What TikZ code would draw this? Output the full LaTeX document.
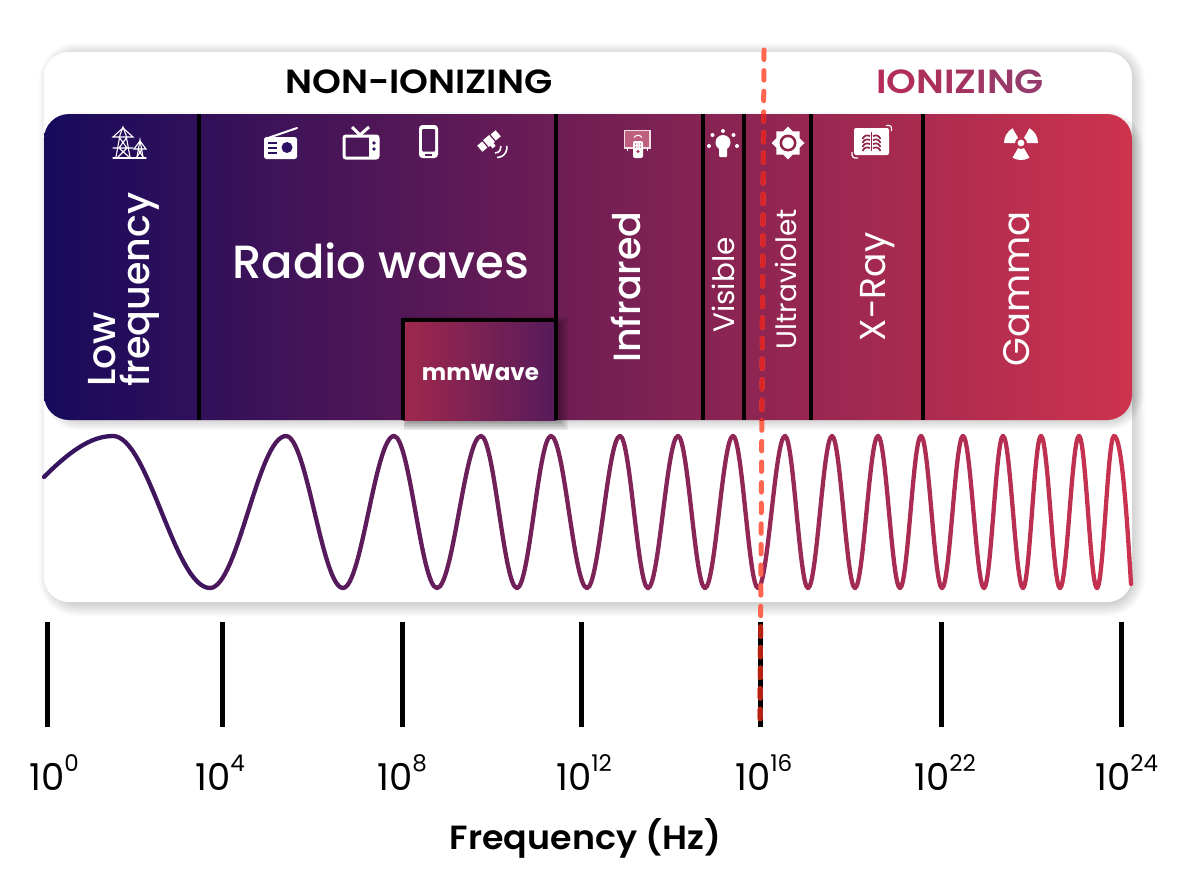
\documentclass[tikz,border=0pt]{standalone}
\usepackage{fontspec}
\setmainfont{Poppins}
\newfontfamily\medf{Poppins Medium}
\newfontfamily\semif{Poppins SemiBold}
\newfontfamily\boldf{Poppins Bold}
\usetikzlibrary{calc}
\definecolor{bandL}{HTML}{170A5C}
\definecolor{bandM}{HTML}{6A1F58}
\definecolor{bandR}{HTML}{CE334D}
\definecolor{waveL}{HTML}{36145F}
\definecolor{waveR}{HTML}{C93350}
\definecolor{coral}{HTML}{FF6650}
\definecolor{dashband}{HTML}{DA2528}
\definecolor{dashtick}{HTML}{B72010}
\definecolor{bgA}{HTML}{2C1061}
\definecolor{bgB}{HTML}{561B5A}
\definecolor{bgC}{HTML}{A82A51}
\newcommand{\fsz}[1]{\fontsize{#1}{#1}\selectfont}
\newcommand{\tenp}[1]{10\raisebox{19pt}{\fsz{23}#1}}
\tikzset{
 x=1pt,y=1pt,
 bandtext/.style={text=white,inner sep=0pt,align=left},
 sep/.style={draw=black,line width=3.4pt},
 tick/.style={draw=black,line width=5pt},
 ticklabel/.style={anchor=base west,inner sep=0pt,font=\fsz{37}},
 ico/.style={fill=white,draw=none},
 icoline/.style={draw=white,line width=1.1pt,line cap=round},
 dashes/.style={line width=5pt,line cap=round,dash pattern=on 9.5pt off 11.1pt},
 wave/.style={line width=4.3pt,line cap=round},
}
\begin{document}
\begin{tikzpicture}
\useasboundingbox (0,-886) rectangle (1204,0);
\fill[white] (0,-886) rectangle (1204,0);
% panel shadow
\foreach \w in {2,5,...,26}
  \draw[black,opacity=.02,line width=\w pt,rounded corners=25pt] (52,-56) rectangle (1132,-603);
\fill[white,rounded corners=25pt] (44,-52) rectangle (1132,-602);
% band shadow
\foreach \w in {2,5,...,20}
  \draw[black,opacity=.025,line width=\w pt,rounded corners=25pt] (54,-122) rectangle (1133,-420);
\shade[left color=bandL,middle color=bandM,right color=bandR,rounded corners=25pt] (44,-114) rectangle (1132,-420);
\node[anchor=base west,inner sep=0pt,text=black] (nonion) at (285,-93.5) {\scalebox{1.097}[1]{\semif\fsz{33.5}NON-IONIZING}};
\node[anchor=base west,inner sep=0pt] (ion) at (876,-93.5) {\scalebox{1.13}[1]{\semif\fsz{33.5}\textcolor[HTML]{B62D58}{I}\textcolor[HTML]{B22E5A}{O}\textcolor[HTML]{AC305C}{N}\textcolor[HTML]{A7325F}{I}\textcolor[HTML]{A33461}{Z}\textcolor[HTML]{9F3664}{I}\textcolor[HTML]{9A3867}{N}\textcolor[HTML]{943B6B}{G}}};
% mmWave
\begin{scope}
 \clip (404,-300) rectangle (600,-450);
 \foreach \w in {2,5,...,20}
  \draw[black,opacity=.05,line width=\w pt] (410,-326) rectangle (558,-420);
\end{scope}
\shade[left color=bgC!95!black,right color=bgB] (403,-320) rectangle (556,-420);
\draw[sep] (403,-420) -- (403,-320) -- (556,-320);
% separators
\foreach \x in {199,556,703,744,811,923}
  \draw[sep] (\x,-114) -- (\x,-420);
% labels
\node[bandtext,rotate=90,anchor=base west] (low) at (115,-387) {\medf\fsz{39}Low};
\node[bandtext,rotate=90,anchor=base west] (freq) at (149,-387) {\medf\fsz{38}frequency};
\node[bandtext,anchor=base west] (radio) at (232,-278) {\medf\fsz{46.5}Radio waves};
\node[bandtext,rotate=90,anchor=base] (infra) at (640,-287) {\medf\fsz{38}Infrared};
\node[bandtext,rotate=90,anchor=base] (vis) at (734,-285) {\fsz{29.5}Visible};
\node[bandtext,rotate=90,anchor=base] (uv) at (796,-279) {\fsz{28}Ultraviolet};
\node[bandtext,rotate=90,anchor=base] (xray) at (885,-287) {\fsz{36}X-Ray};
\node[bandtext,rotate=90,anchor=base] (gamma) at (1029,-289) {\fsz{37}Gamma};
\node[bandtext,anchor=base] (mm) at (480.5,-380) {\boldf\fsz{23}mmWave};
% tower icon
\begin{scope}[icoline]
 \draw (113,-158) -- (146,-158);
 \draw (116,-157) -- (120,-135) -- (123,-127) -- (126,-135) -- (130,-157);
 \draw (113,-137) -- (123,-128) -- (133,-137) -- cycle;
 \draw (113,-148) -- (133,-148) (119,-137) -- (127,-148) -- (118,-157) (127,-137) -- (119,-148) -- (129,-157);
 \draw (137,-157) -- (140,-140) -- (143,-157);
 \draw (134,-149) -- (140,-141) -- (146,-149) -- cycle;
 \draw (138,-149) -- (143,-157) (142,-149) -- (137,-157);
\end{scope}
% radio
\draw[draw=white,line width=2pt,line cap=round] (268,-138) -- (297,-128);
\fill[ico,rounded corners=2.5pt] (264,-137) rectangle (297,-159);
\fill[bgA] (287,-147.5) circle (5.5pt);
\foreach \yy in {142.5,147.5,152.5} \draw[bgA,line width=2pt] (268,-\yy) -- (277,-\yy);
% TV
\draw[white,line width=3pt,rounded corners=2pt] (344,-136) rectangle (378,-158);
\fill[white] (369,-136) rectangle (378,-158);
\draw[white,line width=3pt] (352,-127) -- (360,-135) -- (369,-127);
\fill[bgA] (374,-143) circle (1.8pt) (374,-149) circle (1.8pt);
% phone
\fill[ico,rounded corners=3.5pt] (419,-125) rectangle (438,-158);
\fill[bgB,rounded corners=1pt] (422,-129) rectangle (435,-151.5);
\draw[bgB,line width=1.2pt] (425,-155) -- (432,-155);
% satellite
\begin{scope}[shift={(489,-141)},rotate=40]
 \fill[ico] (-4,-4.5) rectangle (4,4.5);
 \fill[ico] (-12,-4) rectangle (-5.5,4);
 \fill[ico] (5.5,-4) rectangle (12,4);
 \fill[ico] (-2,-8) rectangle (2,-4);
\end{scope}
\draw[white,line width=1.6pt] (495,-153) arc (-90:10:6pt);
\draw[white,line width=1.6pt] (497,-157.5) arc (-90:10:10pt);
% infrared
\draw[white!85!bgC,line width=1.2pt,fill=white!25!bgC] (624.5,-130.5) rectangle (650,-148);
\draw[white,line width=1pt] (627,-148) -- (627,-151) (647,-148) -- (647,-151);
\fill[ico,rounded corners=2pt] (633,-141) rectangle (643,-158);
\fill[bgC] (638,-151.5) circle (1.6pt);
\foreach \xx in {635.5,638,640.5} \foreach \yy in {144,147} \fill[bgC] (\xx,-\yy) circle (.7pt);
\draw[white,line width=1pt] (634,-137.5) .. controls (636,-134.5) and (640,-134.5) .. (642,-137.5);
% bulb
\fill[ico] (723,-142.5) circle (7.5pt);
\fill[ico,rounded corners=1pt] (719,-146) rectangle (727,-157);
\foreach \p in {(723,-131),(712.5,-135),(733.5,-135),(709,-146),(737,-146)}
  \fill[ico] \p circle (2pt);
% dashed line
\coordinate (dtop) at (764,-50);
\coordinate (dbot) at (760,-729);
% ticks
\foreach \x in {47,222,402,581,760,941,1121}{
  \draw[tick] (\x,-622) -- (\x,-727);
}
\node[ticklabel] (la) at (29,-790) {\tenp{0}};
\node[ticklabel] (lb) at (195,-790) {\tenp{4}};
\node[ticklabel] (lc) at (377,-790) {\tenp{8}};
\node[ticklabel] (ld) at (556,-790) {\tenp{12}};
\node[ticklabel] (le) at (735,-790) {\tenp{16}};
\node[ticklabel] (lf) at (914,-790) {\tenp{22}};
\node[ticklabel] (lg) at (1095,-790) {\tenp{24}};
\node[anchor=base,inner sep=0pt] (axis) at (585.5,-849) {\scalebox{1.04}[1]{\semif\fsz{33.5}Frequency (Hz)}};
% sun
\fill[ico] (804.5,-143)
 \foreach \a in {22.5,45,...,337.5}{ -- ({788+(mod(\a,45)==0 ? 16.5 : 12.5)*cos(\a)},{-143+(mod(\a,45)==0 ? 16.5 : 12.5)*sin(\a)}) } -- cycle;
\fill[bgC!85!black] (788,-143) circle (8.5pt);
\fill[ico] (788,-143) circle (5.8pt);
% xray
\fill[ico,rounded corners=2pt] (854,-128) rectangle (889,-155);
\draw[white,line width=1.2pt] (886,-125.5) -- (889,-125.5) arc (90:0:2.5pt) -- (891.5,-131);
\draw[white,line width=1.2pt] (852,-152) -- (852,-155) arc (180:270:3pt) -- (858,-158);
\begin{scope}[bgC!85!black,line width=1.7pt]
 \draw (871.5,-132) -- (871.5,-151);
 \foreach \yy in {136,140,144,148}{
  \draw (870,-\yy) .. controls (866,-\yy+1.5) and (864,-\yy) .. (862.5,-\yy-3);
  \draw (873,-\yy) .. controls (877,-\yy+1.5) and (879,-\yy) .. (880.5,-\yy-3);
 }
\end{scope}
% radiation
\fill[ico] (1021,-143) circle (3.4pt);
\foreach \a in {0,120,240}
  \fill[ico] ($(1021,-143)+(\a:6pt)$) -- ($(1021,-143)+(\a:17pt)$) arc (\a:\a+60:17pt) -- ($(1021,-143)+(\a+60:6pt)$) arc (\a+60:\a:6pt) -- cycle;
% wave
\draw[wave,color=waveL] (44,-477) .. controls (68,-453) and (90,-436) .. (113,-436);
\foreach \x/\y [remember=\x as \px (initially 113),remember=\y as \py (initially 436)] in
 {210/588,286/436,343/588,394/436,437/588,481/436,517/588,551/436,587/588,620/436,648/588,678/436,705/588,733/436,758/588,785/436,808/588,832/436,855/588,878/436,900/588,921/436,942/588,963/436,984/588,1003/436,1023/588,1041/436,1060/588,1079/436,1097/588,1114/436}{
  \pgfmathsetmacro\pct{min(100,max(0,(0.5*\x+0.5*\px-100)/10.3))}
  \colorlet{wc}{waveR!\pct!waveL}
  \pgfmathsetmacro\cdx{0.3642*(\x-\px)}
  \draw[wave,color=wc] (\px,-\py) .. controls (\px+\cdx,-\py) and (\x-\cdx,-\y) .. (\x,-\y);
}
\draw[wave,color=waveR] (1114,-436) .. controls (1122,-436) and (1127,-520) .. (1131,-584);
% dashed boundary
\draw[coral,dashes] (dtop) -- (dbot);
\begin{scope}
 \clip (700,-114) rectangle (820,-420);
 \draw[dashband,dashes] (dtop) -- (dbot);
\end{scope}
\begin{scope}
 \clip (750,-622) rectangle (770,-735);
 \draw[dashtick,dashes] (dtop) -- (dbot);
\end{scope}
\end{tikzpicture}
\end{document}
